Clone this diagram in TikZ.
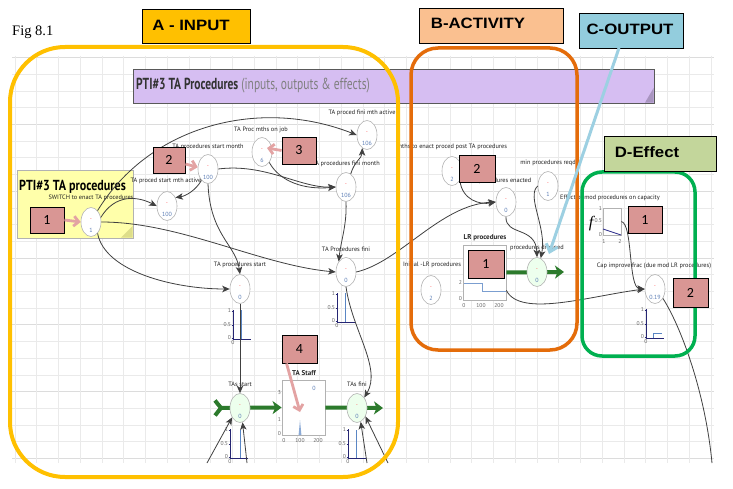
\documentclass[tikz,border=0pt]{standalone}
\usepackage{fontspec}
\setmainfont{Liberation Sans}
\newfontfamily\lblfont{PT Sans}
\newfontfamily\tagfont{Carlito}
\newfontfamily\figfont{Liberation Serif}
\usetikzlibrary{shapes.geometric,arrows.meta,calc}
\definecolor{ayellow}{HTML}{FFC000}
\definecolor{borange}{HTML}{E46C0A}
\definecolor{cblue}{HTML}{93CDDD}
\definecolor{cblueline}{HTML}{9DD0E2}
\definecolor{dgreen}{HTML}{00B050}
\definecolor{peach}{HTML}{FAC090}
\definecolor{olivebox}{HTML}{C3D69B}
\definecolor{purp}{HTML}{D6BEF2}
\definecolor{purpdark}{HTML}{A995C0}
\definecolor{tagpink}{HTML}{D99694}
\definecolor{tagarrowc}{HTML}{E3A3A3}
\definecolor{notey}{HTML}{FFFFAA}
\definecolor{notefold}{HTML}{DEDE8A}
\definecolor{flowg}{HTML}{2C7A2C}
\definecolor{numblue}{HTML}{5B7DB5}
\definecolor{spike}{HTML}{5A86C4}
\definecolor{gridc}{HTML}{EAEAEA}
\definecolor{gridm}{HTML}{DCDCDC}
\definecolor{connc}{HTML}{404040}
\newcommand\auxnode[5]{%
  \node[#1] (#2) at (#3,#4) {};
  \node[redmk] (#2-m) at ($(#2.center)+(0,-2)$) {-};
  \node[valtxt] (#2-v) at ($(#2.center)+(0,8)$) {#5};
}
\newcommand\minig[3]{%
  \draw[axisln] (#2,#3-29) -- (#2,#3) -- (#2+18,#3);
  \draw[axisln] (#2-1.5,#3-28) -- (#2,#3-28) (#2-1.5,#3-14) -- (#2,#3-14) (#2-1.5,#3-1) -- (#2,#3-1);
  \node[ticklbl, anchor=east] (#1-t1) at (#2-1.8,#3-28) {1};
  \node[ticklbl, anchor=east] (#1-t2) at (#2-1.8,#3-14) {0.5};
  \node[ticklbl, anchor=east] (#1-t3) at (#2-1.8,#3-1) {0};
  \node[ticklbl, anchor=north] (#1-t4) at (#2,#3+1.5) {0};
}
\begin{document}
\begin{tikzpicture}[x=1pt,y=-1pt,
  auxn/.style={ellipse, draw=gray!60, fill=white, line width=0.6pt, minimum width=20pt, minimum height=29pt, inner sep=0pt},
  valven/.style={auxn, fill=green!7},
  redmk/.style={font=\fontsize{5}{5}\selectfont, text=red!75, inner sep=0pt},
  valtxt/.style={font=\lblfont\fontsize{6}{6}\selectfont, text=numblue, inner sep=0pt},
  lbl/.style={font=\lblfont\fontsize{6.3}{6.5}\selectfont, text=black!88, inner sep=0pt},
  blbl/.style={font=\lblfont\bfseries\fontsize{7}{7}\selectfont, text=black!85, inner sep=0pt},
  ticklbl/.style={font=\lblfont\fontsize{5.6}{5.6}\selectfont, text=gray!80!black, inner sep=0pt},
  conn/.style={draw=connc, line width=0.8pt, -{Stealth[length=7.5pt,width=6.5pt,inset=2pt]}},
  plainline/.style={draw=connc, line width=0.8pt},
  tagbox/.style={draw=black, line width=0.9pt, fill=tagpink, inner sep=0pt, font=\tagfont\fontsize{14}{14}\selectfont},
  tagarr/.style={draw=tagarrowc, line width=2.8pt, -{Straight Barb[length=5pt,width=10pt]}},
  flow/.style={draw=flowg, line width=4pt},
  stockn/.style={rectangle, draw=gray!60, fill=white, line width=0.8pt, minimum width=43pt, minimum height=55pt, inner sep=0pt},
  hdrbox/.style={draw=black, line width=0.8pt, inner sep=0pt},
  hdr/.style={inner sep=0pt, font=\bfseries\fontsize{15}{15}\selectfont},
  axisln/.style={draw=gray!50!blue!60!black, line width=0.6pt},
  spk/.style={draw=spike, line width=1pt}]
\useasboundingbox (0,0) rectangle (733,489);
\fill[white] (0,0) rectangle (733,489);
% grid
\begin{scope}
\clip (12,56) rectangle (714,463);
\foreach \i in {0,...,24} \draw[gridc, line width=0.6pt] (12,57.5+16.7*\i) -- (714,57.5+16.7*\i);
\foreach \i in {0,4,...,24} \draw[gridm, line width=0.8pt] (12,57.5+16.7*\i) -- (714,57.5+16.7*\i);
\foreach \i in {0,...,32} \draw[gridc, line width=0.6pt] (15+21.75*\i,56) -- (15+21.75*\i,463);
\end{scope}
% fig label
\node[anchor=base west, inner sep=0pt, font=\figfont\fontsize{14.5}{14.5}\selectfont] (fig) at (12,36) {Fig 8.1};
% title bar
\node[rectangle, draw=gray!70!black, line width=0.8pt, fill=purp, minimum width=521pt, minimum height=34pt, inner sep=0pt] (bar) at (393.5,86) {};
\fill[purpdark] (645,102.6) -- (653.6,102.6) -- (653.6,88) -- cycle;
\node[anchor=west, inner sep=0pt] (bartitle) at (136,86) {\lblfont\fontsize{16}{16}\selectfont\scalebox{0.72}[1]{\textcolor{black!80}{\bfseries PTI\#3 TA Procedures} \textcolor{gray}{(inputs, outputs \& effects)}}};
% note
\node[rectangle, draw=gray!60, line width=0.8pt, fill=notey, minimum width=116pt, minimum height=68pt, inner sep=0pt] (note) at (75,204) {};
\fill[notefold] (121,237.6) -- (132.6,226) -- (132.6,237.6) -- cycle;
\node[anchor=west, inner sep=0pt] (notetitle) at (19,186.5) {\lblfont\bfseries\fontsize{14.5}{14.5}\selectfont\scalebox{0.83}[1]{PTI\#3 TA procedures}};
% stocks
\node[stockn] (staff) at (303.5,407.5) {};
\node[stockn] (lr) at (484.5,272.5) {};
\node[rectangle, draw=gray!60, line width=0.7pt, fill=white, minimum width=18pt, minimum height=27pt, inner sep=0pt] (ef) at (612,221.5) {};
% flows
\coordinate (tsrc) at (213,408);
\coordinate (tfend) at (383,408);
\coordinate (pdend) at (564,272);
\draw[flow, {Straight Barb[reversed,length=6pt,width=15pt]}-{Stealth[length=9pt,width=13pt,inset=2.5pt]}] (tsrc) -- (staff.west);
\draw[flow, -{Stealth[length=9pt,width=13pt,inset=2.5pt]}] (staff.east) -- (tfend);
\draw[flow, -{Stealth[length=9pt,width=13pt,inset=2.5pt]}] (lr.east) -- (pdend);
% variables
\auxnode{auxn}{sw}{91}{222}{1}
\auxnode{auxn}{psa}{167}{206}{100}
\auxnode{auxn}{psm}{208}{169}{100}
\auxnode{auxn}{pmj}{262}{152}{6}
\auxnode{auxn}{pfa}{367}{135}{106}
\auxnode{auxn}{pfm}{346}{187}{106}
\auxnode{auxn}{ps}{240}{289}{0}
\auxnode{auxn}{pf}{346}{272}{0}
\auxnode{valven}{ts}{240}{408}{0}
\auxnode{valven}{tf}{357}{408}{0}
\auxnode{auxn}{me}{452}{171}{2}
\auxnode{auxn}{pe}{506}{202}{0}
\auxnode{auxn}{mr}{548}{186}{1}
\auxnode{valven}{pd}{537}{272}{0}
\auxnode{auxn}{il}{431}{290}{2}
\auxnode{auxn}{cf}{655}{289}{0.19}
% labels
\node[lbl] (sw-l) at (91,198) {SWITCH to enact TA procedures};
\node[lbl] (psa-l) at (166,181) {TA proced start mth active};
\node[lbl] (psm-l) at (208,147) {TA procedures start month};
\node[lbl] (pmj-l) at (261,130) {TA Proc mths on job};
\node[lbl] (pfa-l) at (362,113) {TA proced fini mth active};
\node[lbl] (pfm-l) at (346,164) {TA procedures fini month};
\node[lbl] (ps-l) at (240,265) {TA procedures start};
\node[lbl] (pf-l) at (346,249) {TA Procedures fini};
\node[lbl] (ts-l) at (240,384) {TAs start};
\node[lbl] (tf-l) at (357,384) {TAs fini};
\node[blbl] (staff-l) at (304,373) {TA Staff};
\node[lbl] (me-l) at (452,147) {mths to enact proced post TA procedures};
\node[lbl] (pe-l) at (505,181) {procedures enacted};
\node[lbl] (mr-l) at (548,163) {min procedures reqd};
\node[lbl] (pd-l) at (537,248) {procedures dropped};
\node[blbl] (lr-l) at (485,238) {LR procedures};
\node[lbl] (il-l) at (432,265) {Initial -LR procedures};
\node[lbl] (ef-l) at (610,198) {Effect of mod procedures on capacity};
\node[lbl] (cf-l) at (654,266) {Cap improve frac (due mod LR procedures)};
% staff internals
\node[ticklbl, anchor=east] (st-y3) at (281,393) {3};
\node[ticklbl, anchor=east] (st-y1) at (281,420) {1};
\node[ticklbl, anchor=east] (st-y0) at (281,434) {0};
\node[ticklbl] (st-x0) at (284,441) {0};
\node[ticklbl] (st-x1) at (300,441) {100};
\node[ticklbl] (st-x2) at (318,441) {200};
\node[valtxt] (st-v) at (314,388) {0};
\fill[spike!70] (298.6,435) -- (300,420) -- (301.4,435) -- cycle;
% LR internals
\node[ticklbl, anchor=east] (lr-y2) at (462,283) {2};
\node[ticklbl, anchor=east] (lr-y0) at (462,299) {0};
\node[ticklbl] (lr-x0) at (464,306) {0};
\node[ticklbl] (lr-x1) at (481,306) {100};
\node[ticklbl] (lr-x2) at (499,306) {200};
\draw[spike!80, line width=0.8pt] (464,283) -- (482,283) -- (482,291) -- (506,291);
% effect function internals
\node[font=\figfont\itshape\fontsize{16}{16}\selectfont, inner sep=0pt] (ef-f) at (591,224) {f};
\node[ticklbl, anchor=east] (ef-y1) at (602,208.5) {1};
\node[ticklbl, anchor=east] (ef-y2) at (602,221) {0.5};
\node[ticklbl, anchor=east] (ef-y0) at (602,234.5) {0};
\node[ticklbl] (ef-x1) at (604,242) {1};
\node[ticklbl] (ef-x2) at (620,242) {2};
\draw[blue!45!black!80, line width=0.8pt] (603,229) -- (621,235);
% mini graphs
\minig{mg1}{233}{339}
\draw[spk] (241,310) -- (241,339);
\minig{mg2}{337}{322}
\draw[spk] (345,293) -- (345,322);
\minig{mg3}{230}{458}
\draw[spk] (240,430) -- (240,458);
\minig{mg4}{348}{458}
\draw[spk] (356,430) -- (356,458);
\minig{mg5}{646}{338}
\draw[spk] (653,338) -- (653,333.5) -- (662,333.5);
% connectors
\draw[conn] (sw.25) .. controls (115,194) and (137,196) .. (psa.west);
\draw[conn] (sw.60) .. controls (150,125) and (260,97) .. (pfa.west);
\draw[conn] (psm.240) .. controls (196,190) and (186,196) .. (psa.45);
\draw[conn] (psm.south) .. controls (210,235) and (236,245) .. (ps.north);
\draw[conn] (psm.east) .. controls (265,163) and (300,188) .. (pfm.west);
\draw[conn] (pmj.south east) .. controls (280,182) and (305,190) .. (pfm.west);
\draw[conn] (pfm.70) .. controls (354,162) and (362,158) .. (pfa.250);
\draw[conn] (pfm.south) .. controls (347,225) and (341,240) .. (pf.north west);
\draw[conn] (sw.east) .. controls (180,222) and (260,265) .. (pf.west);
\draw[conn] (sw.-60) .. controls (105,272) and (175,289) .. (ps.west);
\draw[conn] (ps.south) -- (ts.north);
\draw[conn] (pf.south) .. controls (352,330) and (382,368) .. (tf.north east);
\coordinate (b1) at (207,463);
\coordinate (b2) at (247,463);
\coordinate (b3) at (367,463);
\coordinate (b4) at (388,463);
\coordinate (cfend) at (712,463);
\draw[conn] (b1) -- (ts.-130);
\draw[conn] (b2) -- (ts.-80);
\draw[conn] (b3) -- (tf.-75);
\draw[conn] (b4) -- (tf.-45);
\draw[conn] (pf.east) .. controls (400,262) and (440,205) .. (pe.west);
\draw[conn] (me.-50) .. controls (462,200) and (480,205) .. (pe.west);
\draw[conn] (pe.south) .. controls (505,236) and (536,226) .. (pd.north);
\draw[conn] (mr.west) .. controls (526,196) and (547,228) .. (pd.75);
\draw[conn] ($(lr.south east)+(0,-10)$) .. controls (520,318) and (590,296) .. (cf.west);
\draw[conn] (ef.east) .. controls (633,224) and (628,288) .. (cf.west);
\draw[plainline] (cf.-50) .. controls (680,325) and (705,390) .. (cfend);
% frames
\draw[ayellow, line width=4pt, rounded corners=55pt] (10,47) rectangle (398,477);
\draw[borange, line width=3.5pt, rounded corners=27pt] (411,48) rectangle (577,350);
\draw[dgreen, line width=3.5pt, rounded corners=20pt] (582,172) rectangle (695,356);
% headers
\node[hdrbox, fill=ayellow, minimum width=108pt, minimum height=34pt] (hA) at (196,26) {};
\node[hdr] (hA-t) at (191,25) {\scalebox{1.12}[1]{A - INPUT}};
\node[hdrbox, fill=peach, minimum width=144pt, minimum height=35pt] (hB) at (491,25.5) {};
\node[hdr] (hB-t) at (478,23.5) {\scalebox{1.12}[1]{B-ACTIVITY}};
\node[hdrbox, fill=cblue, minimum width=104pt, minimum height=35pt] (hC) at (631,30.5) {};
\node[hdr] (hC-t) at (630,29) {\scalebox{1.12}[1]{C-OUTPUT}};
\node[hdrbox, fill=olivebox, minimum width=112pt, minimum height=35pt] (hD) at (660,153.5) {};
\node[hdr] (hD-t) at (647,152) {\scalebox{1.12}[1]{D-Effect}};
% output pointer
\coordinate (cstart) at (619,48);
\coordinate (ctip) at (549,254);
\draw[cblueline, line width=3pt, -{Straight Barb[length=7pt,width=12pt]}] (cstart) -- (ctip);
% annotation tags
\node[tagbox, minimum width=34pt, minimum height=26pt] (tA1) at (47,220) {1};
\node[tagbox, minimum width=32pt, minimum height=26pt] (tA2) at (169,160) {2};
\node[tagbox, minimum width=34pt, minimum height=27pt] (tA3) at (299,150.5) {3};
\node[tagbox, minimum width=35pt, minimum height=28pt] (tA4) at (299.5,349) {4};
\node[tagbox, minimum width=36pt, minimum height=27pt] (tB2) at (477,168.5) {2};
\node[tagbox, minimum width=36pt, minimum height=28pt] (tB1) at (486,264) {1};
\node[tagbox, minimum width=34pt, minimum height=27pt] (tD1) at (645,219.5) {1};
\node[tagbox, minimum width=35pt, minimum height=29pt] (tD2) at (690.5,292.5) {2};
\coordinate (a3tip) at (267,148);
\coordinate (a4tip) at (300,412);
\draw[tagarr] (tA1.east) -- (sw.west);
\draw[tagarr] ($(tA2.east)+(0,4)$) -- (psm.170);
\draw[tagarr] (tA3.west) -- (a3tip);
\draw[tagarr] ($(tA4.south west)+(5,0)$) -- (a4tip);
\end{tikzpicture}
\end{document}
